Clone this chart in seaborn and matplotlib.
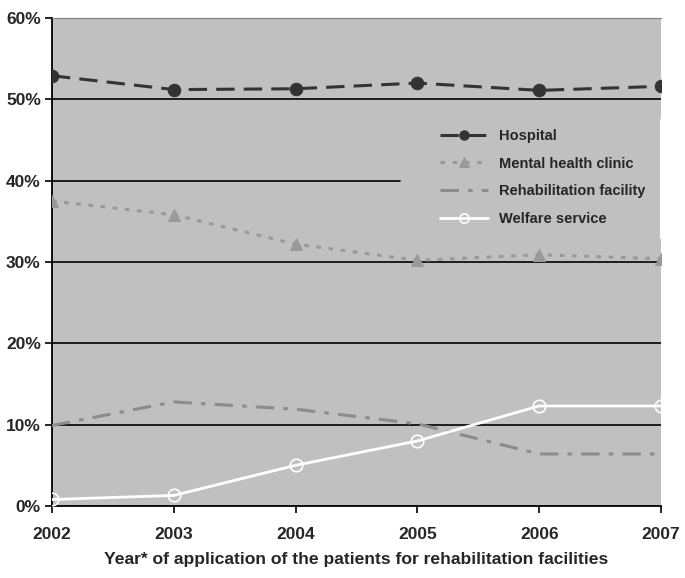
import matplotlib
matplotlib.use("Agg")
import matplotlib.pyplot as plt
import seaborn as sns
import pandas as pd
from matplotlib.ticker import FuncFormatter

years = [2002, 2003, 2004, 2005, 2006, 2007]
hospital = [52.9, 51.2, 51.3, 52.0, 51.1, 51.6]
mental = [37.5, 35.8, 32.2, 30.2, 30.9, 30.4]
rehab = [9.9, 12.8, 11.9, 10.1, 6.4, 6.4]
welfare = [0.8, 1.3, 5.0, 8.0, 12.3, 12.3]
series_names = ["Hospital", "Mental health clinic", "Rehabilitation facility", "Welfare service"]
y_ticks = [0, 10, 20, 30, 40, 50, 60]

sns.set_theme(style="white")
plt.rcParams['font.family'] = ['Liberation Sans', 'DejaVu Sans']
plt.rcParams['font.weight'] = 'bold'

fig = plt.figure(figsize=(6.85, 5.78), dpi=100)
ax = fig.add_axes([52/685, 1-506/578, 609/685, 488/578])
bg = '#C0C0C0'
ax.set_facecolor(bg)

df = pd.DataFrame({"year": years * 4,
                   "value": hospital + mental + rehab + welfare,
                   "series": sum([[s] * len(years) for s in series_names], [])})

styles = {
    "Hospital": dict(color='#333333', linestyle=(0, (6, 3)), marker='o', markersize=9,
                     markerfacecolor='#333333', markeredgecolor='#333333', linewidth=2.2),
    "Mental health clinic": dict(color='#999999', linestyle=(0, (1.5, 2.5)), marker='^', markersize=9,
                                 markerfacecolor='#999999', markeredgecolor='#999999', linewidth=2.2),
    "Rehabilitation facility": dict(color='#8c8c8c', linestyle=(0, (6, 3, 1.5, 3)), marker=None,
                                    linewidth=2.2),
    "Welfare service": dict(color='white', linestyle='-', marker='o', markersize=9,
                            markerfacecolor='none', markeredgecolor='white', markeredgewidth=1.2,
                            linewidth=2),
}

for s in series_names:
    sub = df[df.series == s]
    sns.lineplot(data=sub, x="year", y="value", ax=ax, label=s, zorder=4, **styles[s])

for v in [10, 20, 30, 50]:
    ax.axhline(v, color='black', linewidth=1.2, zorder=1)
ax.axhline(40, xmax=0.572, color='black', linewidth=1.2, zorder=1)
ax.axvline(2007, ymin=0.55, ymax=0.79, color='white', linewidth=1.5, zorder=2)

ax.set_xlim(2002, 2007)
ax.set_ylim(0, 60)
ax.set_xticks(years)
ax.set_yticks(y_ticks)
ax.yaxis.set_major_formatter(FuncFormatter(lambda v, p: f"{int(v)}%"))
ax.tick_params(axis='both', labelsize=12.5, length=5, width=1.2, direction='out', color='black',
               bottom=True, left=True)
ax.tick_params(axis='x', pad=10)
ax.tick_params(axis='y', pad=3)
for lbl in ax.get_xticklabels() + ax.get_yticklabels():
    lbl.set_fontweight('bold')
ax.set_xlabel("Year* of application of the patients for rehabilitation facilities",
              fontsize=12.6, fontweight='bold', labelpad=7)
ax.set_ylabel("")

for side in ['left', 'bottom']:
    ax.spines[side].set_color('black')
    ax.spines[side].set_linewidth(1.3)
ax.spines['top'].set_color('#808080')
ax.spines['top'].set_linewidth(0.8)
ax.spines['right'].set_visible(False)

leg = ax.legend(loc='upper left', bbox_to_anchor=(0.616, 0.80),
                frameon=False,
                prop={'weight': 'bold', 'size': 10.5}, handlelength=3.3, labelspacing=0.95,
                borderpad=0.9, handletextpad=0.7, borderaxespad=0, markerscale=0.75)
leg.set_zorder(5)

fig.savefig("out.png", dpi=100)
